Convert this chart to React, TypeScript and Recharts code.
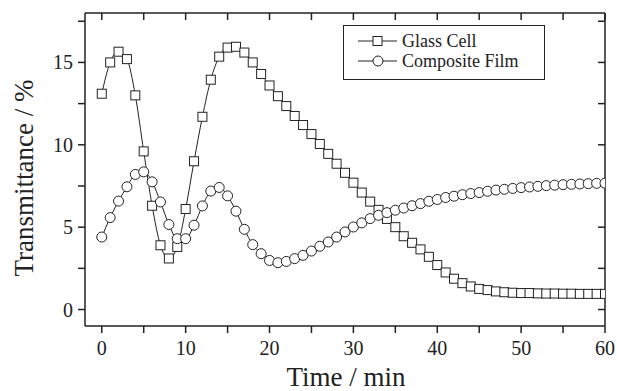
import React from 'react';
import { LineChart, Line, XAxis, YAxis, Legend, Label } from 'recharts';

const time = [
  0, 1, 2, 3, 4, 5, 6, 7, 8, 9, 10, 11, 12, 13, 14, 15, 16, 17, 18, 19, 20,
  21, 22, 23, 24, 25, 26, 27, 28, 29, 30, 31, 32, 33, 34, 35, 36, 37, 38, 39, 40,
  41, 42, 43, 44, 45, 46, 47, 48, 49, 50, 51, 52, 53, 54, 55, 56, 57, 58, 59, 60,
];

const glassCell = [
  13.1, 15.0, 15.65, 15.2, 13.0, 9.6, 6.3, 3.9, 3.1, 3.8, 6.1,
  9.0, 11.7, 13.95, 15.35, 15.9, 15.95, 15.6, 15.0, 14.3, 13.6,
  12.95, 12.35, 11.75, 11.2, 10.65, 10.05, 9.45, 8.85, 8.3, 7.7,
  7.1, 6.55, 6.05, 5.5, 5.0, 4.45, 4.05, 3.65, 3.2, 2.7,
  2.25, 1.87, 1.6, 1.4, 1.25, 1.18, 1.1, 1.05, 1.02, 1.0,
  1.0, 0.98, 0.97, 0.97, 0.96, 0.96, 0.95, 0.95, 0.95, 0.95,
];

const compositeFilm = [
  4.4, 5.58, 6.58, 7.45, 8.2, 8.36, 7.75, 6.53, 5.16, 4.3, 4.3,
  5.12, 6.29, 7.19, 7.41, 6.9, 5.97, 4.87, 3.94, 3.39, 2.98,
  2.84, 2.92, 3.09, 3.29, 3.55, 3.84, 4.1, 4.4, 4.71, 5.01,
  5.26, 5.52, 5.72, 5.88, 6.03, 6.16, 6.3, 6.43, 6.57, 6.68,
  6.8, 6.88, 6.97, 7.04, 7.1, 7.18, 7.25, 7.3, 7.35, 7.4,
  7.44, 7.48, 7.52, 7.55, 7.58, 7.6, 7.62, 7.64, 7.66, 7.67,
];

const seriesNames = ['Glass Cell', 'Composite Film'];
const xTicks = [0, 5, 10, 15, 20, 25, 30, 35, 40, 45, 50, 55, 60];
const xLabels = [0, 10, 20, 30, 40, 50, 60];
const yTicks = [0, 2.5, 5, 7.5, 10, 12.5, 15, 17.5];
const yLabels = [0, 5, 10, 15];

const data = time.map((t, i) => ({ t, glass: glassCell[i], film: compositeFilm[i] }));

const FONT = 'Liberation Serif';
const INK = '#222';

const SquareDot = (props: any) => {
  const { cx, cy, index } = props;
  if (cx == null || cy == null) return null;
  return <rect key={`sq-${index}`} x={cx - 4.5} y={cy - 4.5} width={9} height={9} fill="#fff" stroke={INK} strokeWidth={1} />;
};

const BottomTick = (props: any) => {
  const { x, y, payload } = props;
  if (!xLabels.includes(payload.value)) return <g />;
  return (
    <text x={x} y={y} dy={22} textAnchor="middle" fontSize={20} fill={INK} fontFamily={FONT} style={{ fontFamily: FONT }}>
      {payload.value}
    </text>
  );
};

const LeftTick = (props: any) => {
  const { x, y, payload } = props;
  if (!yLabels.includes(payload.value)) return <g />;
  return (
    <text x={x - 5} y={y} dy={7} textAnchor="end" fontSize={20} fill={INK} fontFamily={FONT} style={{ fontFamily: FONT }}>
      {payload.value}
    </text>
  );
};

const NoTick = () => <g />;

const LegendBox = () => (
  <div style={{ width: 202, height: 55, border: `1px solid ${INK}`, boxSizing: 'border-box', background: '#fff' }}>
    <svg width={200} height={53} style={{ display: 'block' }}>
      {seriesNames.map((name, i) => {
        const cy = 15 + i * 20;
        return (
          <g key={name}>
            <line x1={14} x2={53} y1={cy} y2={cy} stroke={INK} strokeWidth={1} />
            {i === 0 ? (
              <rect x={29} y={cy - 4.5} width={9} height={9} fill="#fff" stroke={INK} />
            ) : (
              <circle cx={34} cy={cy} r={5} fill="#fff" stroke={INK} />
            )}
            <text x={58} y={cy} dy={6} fontSize={18} fontFamily={FONT} style={{ fontFamily: FONT }} fill={INK}>
              {name}
            </text>
          </g>
        );
      })}
    </svg>
  </div>
);

export default function App() {
  return (
    <div style={{ position: 'absolute', left: 0, top: 0, width: 617, height: 391, background: '#fff', fontFamily: FONT }}>
      <LineChart
        width={617}
        height={391}
        data={data}
        margin={{ top: 13, right: 12, bottom: 0, left: 0 }}
        style={{ fontFamily: FONT }}
      >
        <XAxis
          dataKey="t"
          type="number"
          domain={[-2, 60]}
          allowDataOverflow
          ticks={xTicks}
          interval={0}
          height={65}
          tickSize={7}
          tickMargin={0}
          stroke={INK}
          strokeWidth={1.5}
          tick={<BottomTick />}
        >
          <Label
            content={() => (
              <text x={346} y={386} textAnchor="middle" fontSize={27} fontFamily={FONT} style={{ fontFamily: FONT }} fill={INK}>
                Time / min
              </text>
            )}
          />
        </XAxis>
        <XAxis
          xAxisId="top"
          orientation="top"
          dataKey="t"
          type="number"
          domain={[-2, 60]}
          allowDataOverflow
          ticks={xTicks}
          interval={0}
          height={1}
          mirror
          tickSize={7}
          stroke={INK}
          strokeWidth={1.5}
          tick={<NoTick />}
        />
        <YAxis
          type="number"
          domain={[-1, 18]}
          allowDataOverflow
          ticks={yTicks}
          interval={0}
          width={85}
          tickSize={7}
          tickMargin={0}
          stroke={INK}
          strokeWidth={1.5}
          tick={<LeftTick />}
        >
          <Label
            content={() => (
              <text
                x={33}
                y={178}
                transform="rotate(-90 33 178)"
                textAnchor="middle"
                fontSize={27}
                fontFamily={FONT}
                style={{ fontFamily: FONT }}
                fill={INK}
              >
                Transmittance / %
              </text>
            )}
          />
        </YAxis>
        <YAxis
          yAxisId="right"
          orientation="right"
          type="number"
          domain={[-1, 18]}
          allowDataOverflow
          ticks={yTicks}
          interval={0}
          width={1}
          mirror
          tickSize={7}
          stroke={INK}
          strokeWidth={1.5}
          tick={<NoTick />}
        />
        <Legend
          layout="horizontal"
          verticalAlign="middle"
          align="center"
          content={<LegendBox />}
          wrapperStyle={{ left: 343, top: 25, width: 202, height: 55 }}
        />
        {/* invisible series so the mirrored top/right axes get drawn */}
        <Line
          xAxisId="top"
          yAxisId="right"
          dataKey="glass"
          stroke="none"
          dot={false}
          activeDot={false}
          legendType="none"
          isAnimationActive={false}
        />
        <Line
          name={seriesNames[0]}
          dataKey="glass"
          type="monotone"
          stroke={INK}
          strokeWidth={1}
          dot={<SquareDot />}
          isAnimationActive={false}
        />
        <Line
          name={seriesNames[1]}
          dataKey="film"
          type="monotone"
          stroke={INK}
          strokeWidth={1}
          dot={{ r: 5, fill: '#fff', stroke: INK, strokeWidth: 1 }}
          isAnimationActive={false}
        />
      </LineChart>
    </div>
  );
}
